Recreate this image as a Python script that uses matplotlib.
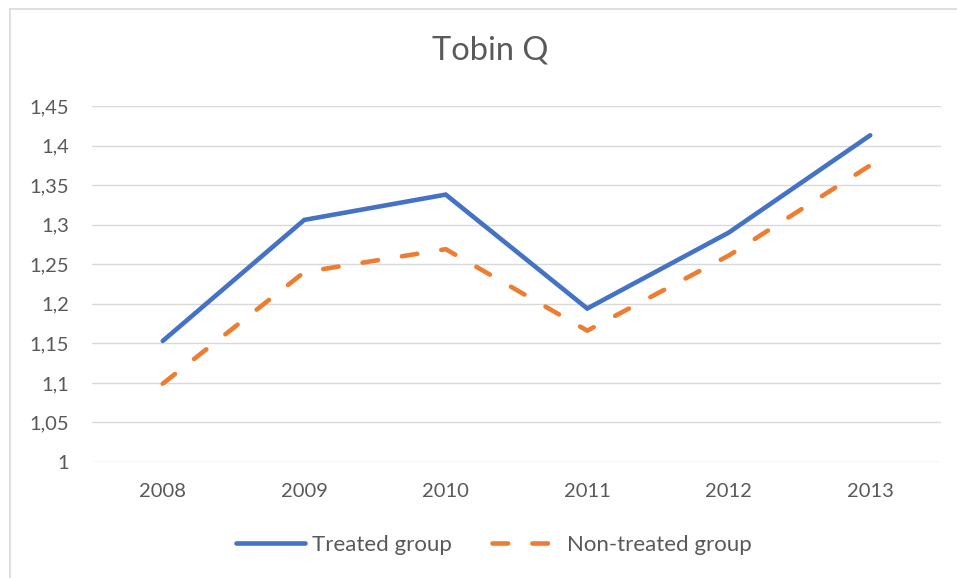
import matplotlib
matplotlib.use('Agg')
import matplotlib.pyplot as plt
from matplotlib.lines import Line2D
from matplotlib.ticker import FuncFormatter

# values
years = ['2008', '2009', '2010', '2011', '2012', '2013']
treated = [1.153, 1.306, 1.338, 1.194, 1.290, 1.413]
non_treated = [1.099, 1.240, 1.269, 1.166, 1.261, 1.375]
y_ticks = [1.0, 1.05, 1.1, 1.15, 1.2, 1.25, 1.3, 1.35, 1.4, 1.45]

plt.rcParams['font.family'] = ['Lato', 'DejaVu Sans']
text_color = '#595959'
blue = '#4472C4'
orange = '#ED7D31'

fig = plt.figure(figsize=(9.57, 5.78), dpi=100)
ax = fig.add_axes([92/957, 1 - 462/578, (941 - 92)/957, (462 - 106)/578])

x = list(range(len(years)))
ax.plot(x, treated, color=blue, lw=3.3, solid_capstyle='round',
        solid_joinstyle='miter', label='Treated group')
ax.plot(x, non_treated, color=orange, lw=3.3, dashes=(3.4, 5.3),
        dash_capstyle='round', dash_joinstyle='round', label='Non-treated group')

ax.set_xlim(-0.5, len(years) - 0.5)
ax.set_ylim(1.0, 1.45)
ax.set_xticks(x)
ax.set_xticklabels(years)
ax.set_yticks(y_ticks)
ax.yaxis.set_major_formatter(FuncFormatter(lambda v, p: f'{v:g}'.replace('.', ',')))
ax.grid(axis='y', color='#D9D9D9', lw=1.0)
ax.set_axisbelow(True)
for s in ax.spines.values():
    s.set_visible(False)
ax.tick_params(axis='both', length=0, labelsize=14.5, colors=text_color)
ax.tick_params(axis='y', pad=16.5)
ax.tick_params(axis='x', pad=15)

fig.text(490/957, 1 - 50/578, 'Tobin Q', ha='center', va='center',
         fontsize=23.5, color=text_color)

fig.legend(loc='center', bbox_to_anchor=(494/957, 1 - 545/578), ncol=2,
           frameon=False, fontsize=16, labelcolor=text_color,
           handlelength=3.1, handletextpad=0.3, columnspacing=1.8)

# light chart-area border (top and left edges visible)
fig.add_artist(Line2D([9.5/957, 1], [1 - 8.5/578, 1 - 8.5/578], color='#D9D9D9', lw=1.2))
fig.add_artist(Line2D([9.5/957, 9.5/957], [0, 1 - 8.5/578], color='#D9D9D9', lw=1.2))

fig.savefig('out.png', dpi=100)
